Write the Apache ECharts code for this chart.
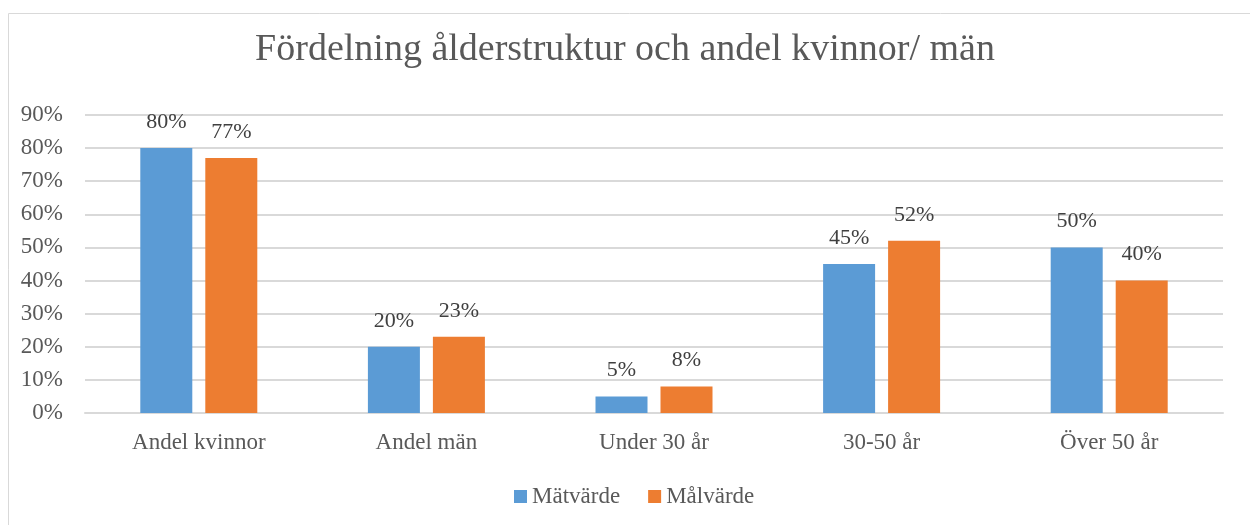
<!DOCTYPE html>
<html><head><meta charset="utf-8">
<script src="https://cdn.jsdelivr.net/npm/echarts@6/dist/echarts.min.js"></script>
<style>html,body{margin:0;padding:0;background:#fff}#c{width:1250px;height:525px}</style>
</head><body><div id="c"></div>
<script>
const categories = ["Andel kvinnor", "Andel män", "Under 30 år", "30-50 år", "Över 50 år"];
const matvarde = [80, 20, 5, 45, 50];
const malvarde = [77, 23, 8, 52, 40];
const seriesNames = ["Mätvärde", "Målvärde"];
const yTicks = { min: 0, max: 90, interval: 10 };

const font = "'Liberation Serif', 'DejaVu Serif', serif";
const chart = echarts.init(document.getElementById('c'));
const lbl = { show: true, position: 'top', distance: 15, color: '#404040', fontSize: 22, fontFamily: font, formatter: p => p.value + '%' };
chart.setOption({
  animation: false,
  textStyle: { fontFamily: font },
  graphic: [{ type: 'rect', shape: { x: 8.5, y: 13.5, width: 1260, height: 540 }, style: { fill: 'none', stroke: '#d9d9d9', lineWidth: 1 } }],
  title: { text: 'Fördelning ålderstruktur och andel kvinnor/ män', left: 'center', top: 26, textStyle: { fontFamily: font, fontSize: 38, fontWeight: 'normal', color: '#595959' } },
  legend: { bottom: 12, left: 509, itemWidth: 13, itemHeight: 13, itemGap: 28, icon: 'rect', textStyle: { fontFamily: font, fontSize: 23, color: '#595959' }, data: seriesNames },
  grid: { left: 85, right: 27, top: 115, bottom: 112, containLabel: false },
  xAxis: { type: 'category', data: categories, axisLine: { lineStyle: { color: '#d9d9d9', width: 2 } }, axisTick: { show: false }, axisLabel: { color: '#595959', fontSize: 23, fontFamily: font, margin: 18 } },
  yAxis: { type: 'value', min: yTicks.min, max: yTicks.max, interval: yTicks.interval, axisLine: { show: false }, axisTick: { show: false }, splitLine: { lineStyle: { color: '#d9d9d9', width: 2 } }, axisLabel: { color: '#595959', fontSize: 23, fontFamily: font, margin: 22, padding: [8, 0, 0, 0], formatter: v => v + '%' } },
  series: [
    { name: seriesNames[0], type: 'bar', data: matvarde, barWidth: 52, barGap: '25%', itemStyle: { color: '#5b9bd5' }, label: lbl },
    { name: seriesNames[1], type: 'bar', data: malvarde, barWidth: 52, barGap: '25%', itemStyle: { color: '#ed7d31' }, label: lbl }
  ]
});
</script></body></html>
